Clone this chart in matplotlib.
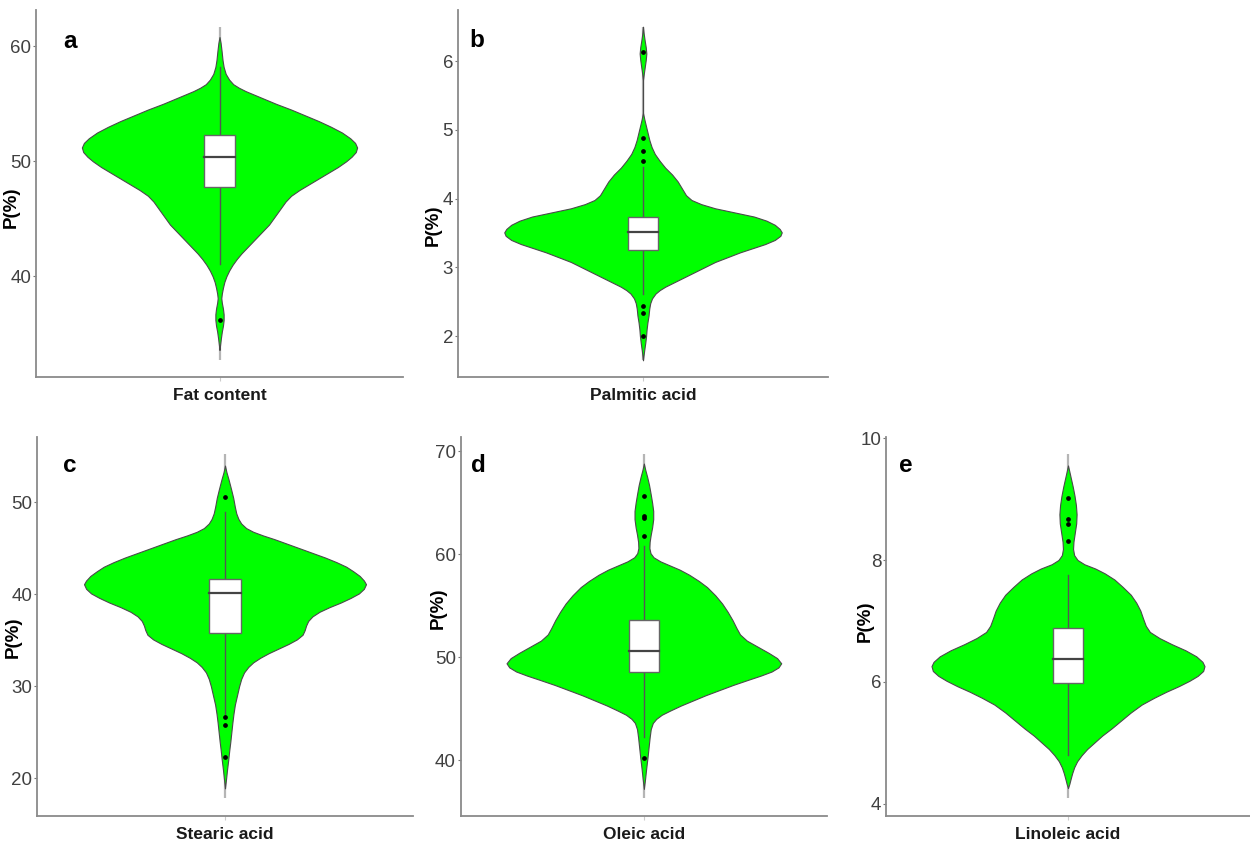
import numpy as np
import matplotlib
matplotlib.use("Agg")
import matplotlib.pyplot as plt

plt.rcParams.update({'font.family': ['Liberation Sans', 'DejaVu Sans'], 'font.size': 13})

GREEN = '#00ff00'

# ---- Fat content (a) ----
FAT_Y = [60.8, 60.3, 59.6, 58.8, 58.2, 57.6, 57.1, 56.7, 56.4, 56.1, 55.8, 55.4, 55.0, 54.5,
         54.0, 53.5, 53.0, 52.5, 52.0, 51.6, 51.2, 50.8, 50.4, 50.0, 49.5, 49.0, 48.5, 48.0,
         47.5, 47.0, 46.5, 46.0, 45.5, 45.0, 44.5, 44.0, 43.5, 43.0, 42.5, 42.0, 41.5, 41.0,
         40.5, 40.0, 39.5, 39.0, 38.5, 38.1, 37.7, 37.2, 36.7, 36.2, 35.7, 35.2, 34.6, 34.0, 33.6]
FAT_W = [0, 0.008, 0.015, 0.022, 0.03, 0.045, 0.07, 0.10, 0.14, 0.19, 0.25, 0.33, 0.41, 0.52,
         0.62, 0.72, 0.81, 0.89, 0.95, 0.985, 1.0, 0.99, 0.96, 0.92, 0.86, 0.79, 0.72, 0.65,
         0.58, 0.52, 0.48, 0.45, 0.42, 0.39, 0.36, 0.32, 0.28, 0.24, 0.20, 0.16, 0.125, 0.095,
         0.07, 0.05, 0.035, 0.025, 0.017, 0.013, 0.017, 0.025, 0.03, 0.03, 0.025, 0.017, 0.01, 0.004, 0]
FAT_BOX = [47.8, 50.35, 52.3]
FAT_WHISK = [41.1, 58.2]
FAT_OUT = [36.2]
FAT_RANGE = [32.7, 61.7]

# ---- Palmitic acid (b) ----
PAL_Y = [6.50, 6.40, 6.30, 6.20, 6.11, 6.02, 5.92, 5.82, 5.75, 5.72, 5.25, 5.15, 5.05, 4.95,
         4.85, 4.75, 4.65, 4.55, 4.45, 4.35, 4.25, 4.15, 4.05, 3.98, 3.92, 3.86, 3.80, 3.74,
         3.68, 3.62, 3.56, 3.51, 3.46, 3.40, 3.34, 3.28, 3.22, 3.15, 3.08, 3.00, 2.92, 2.85,
         2.78, 2.72, 2.67, 2.62, 2.55, 2.48, 2.40, 2.30, 2.20, 2.10, 2.00, 1.90, 1.80, 1.72, 1.65]
PAL_W = [0, 0.005, 0.012, 0.02, 0.024, 0.02, 0.013, 0.006, 0.002, 0, 0, 0.01, 0.022, 0.034,
         0.046, 0.062, 0.085, 0.12, 0.16, 0.21, 0.25, 0.28, 0.31, 0.35, 0.42, 0.52, 0.66, 0.80,
         0.89, 0.95, 0.985, 1.0, 0.99, 0.95, 0.88, 0.79, 0.70, 0.61, 0.52, 0.44, 0.36, 0.29,
         0.22, 0.16, 0.12, 0.09, 0.065, 0.052, 0.045, 0.04, 0.032, 0.026, 0.022, 0.016, 0.009, 0.004, 0]
PAL_BOX = [3.26, 3.52, 3.73]
PAL_WHISK = [2.62, 4.46]
PAL_OUT = [6.13, 4.88, 4.70, 4.55, 2.44, 2.34, 2.00]
PAL_RANGE = [1.65, 6.50]

# ---- Stearic acid (c) ----
STE_Y = [54.0, 53.3, 52.5, 51.5, 50.5, 49.5, 48.8, 48.2, 47.7, 47.2, 46.8, 46.4, 46.0, 45.5,
         45.0, 44.5, 44.0, 43.5, 43.0, 42.5, 42.0, 41.5, 41.1, 40.6, 40.1, 39.6, 39.1, 38.6,
         38.1, 37.6, 37.1, 36.6, 36.1, 35.6, 35.1, 34.6, 34.1, 33.6, 33.1, 32.6, 32.1, 31.5,
         30.8, 30.0, 29.0, 28.0, 27.0, 26.0, 25.0, 24.0, 23.0, 22.0, 21.0, 20.0, 18.9]
STE_W = [0, 0.01, 0.025, 0.042, 0.058, 0.07, 0.08, 0.095, 0.115, 0.15, 0.2, 0.27, 0.35, 0.44,
         0.53, 0.62, 0.71, 0.79, 0.86, 0.91, 0.955, 0.985, 1.0, 0.985, 0.95, 0.89, 0.82, 0.74,
         0.67, 0.62, 0.59, 0.575, 0.565, 0.55, 0.51, 0.45, 0.38, 0.31, 0.25, 0.2, 0.165, 0.135,
         0.115, 0.1, 0.085, 0.07, 0.06, 0.052, 0.045, 0.038, 0.03, 0.023, 0.015, 0.008, 0]
STE_BOX = [35.75, 40.18, 41.64]
STE_WHISK = [26.95, 49.0]
STE_OUT = [50.6, 26.62, 25.75, 22.33]
STE_RANGE = [17.8, 55.27]

# ---- Oleic acid (d) ----
OLE_Y = [68.8, 68.2, 67.5, 66.7, 65.8, 65.0, 64.2, 63.4, 62.6, 61.9, 61.2, 60.6, 60.1, 59.7,
         59.3, 58.9, 58.5, 58.0, 57.4, 56.8, 56.0, 55.2, 54.4, 53.6, 52.8, 52.2, 51.6, 51.0,
         50.4, 49.9, 49.4, 49.0, 48.6, 48.2, 47.8, 47.3, 46.8, 46.3, 45.8, 45.3, 44.8, 44.4,
         44.0, 43.6, 43.0, 42.2, 41.2, 40.2, 39.2, 38.2, 37.2]
OLE_W = [0, 0.01, 0.024, 0.038, 0.05, 0.06, 0.068, 0.068, 0.06, 0.05, 0.042, 0.04, 0.048, 0.07,
         0.12, 0.19, 0.26, 0.33, 0.40, 0.46, 0.52, 0.57, 0.61, 0.645, 0.675, 0.70, 0.75, 0.83,
         0.91, 0.97, 1.0, 0.98, 0.93, 0.85, 0.76, 0.65, 0.55, 0.45, 0.36, 0.27, 0.19, 0.13,
         0.09, 0.065, 0.05, 0.042, 0.034, 0.026, 0.017, 0.009, 0]
OLE_BOX = [48.55, 50.57, 53.65]
OLE_WHISK = [42.28, 60.8]
OLE_OUT = [65.68, 63.73, 63.53, 61.78, 40.17]
OLE_RANGE = [36.27, 69.74]

# ---- Linoleic acid (e) ----
LIN_Y = [9.55, 9.45, 9.33, 9.20, 9.05, 8.90, 8.75, 8.60, 8.45, 8.30, 8.18, 8.08, 8.00, 7.93,
         7.86, 7.78, 7.68, 7.56, 7.43, 7.30, 7.17, 7.04, 6.92, 6.82, 6.72, 6.62, 6.52, 6.42,
         6.33, 6.26, 6.18, 6.10, 6.02, 5.93, 5.84, 5.74, 5.63, 5.50, 5.37, 5.24, 5.12, 5.00,
         4.90, 4.80, 4.70, 4.60, 4.50, 4.40, 4.33, 4.26]
LIN_W = [0, 0.01, 0.022, 0.035, 0.048, 0.058, 0.063, 0.06, 0.05, 0.04, 0.037, 0.045, 0.07, 0.12,
         0.2, 0.27, 0.34, 0.4, 0.46, 0.5, 0.53, 0.55, 0.57, 0.6, 0.67, 0.76, 0.86, 0.94,
         0.985, 1.0, 0.99, 0.95, 0.89, 0.81, 0.72, 0.63, 0.54, 0.46, 0.39, 0.32, 0.25, 0.19,
         0.14, 0.1, 0.067, 0.045, 0.03, 0.018, 0.01, 0]
LIN_BOX = [5.98, 6.37, 6.88]
LIN_WHISK = [4.81, 7.76]
LIN_OUT = [9.02, 8.67, 8.59, 8.31]
LIN_RANGE = [4.09, 9.74]

PANELS = [
    # letter, name, y, w, box, whisk, out, range, ticks, rect, letter pos, ylabel pos
    ('a', 'Fat content', FAT_Y, FAT_W, FAT_BOX, FAT_WHISK, FAT_OUT, FAT_RANGE,
     [40, 50, 60], [0.0288, 0.5528, 0.2936, 0.4353], (0.093, 0.913), (-0.044, 0.463)),
    ('b', 'Palmitic acid', PAL_Y, PAL_W, PAL_BOX, PAL_WHISK, PAL_OUT, PAL_RANGE,
     [2, 3, 4, 5, 6], [0.3664, 0.5528, 0.2960, 0.4353], (0.050, 0.918), (-0.043, 0.414)),
    ('c', 'Stearic acid', STE_Y, STE_W, STE_BOX, STE_WHISK, STE_OUT, STE_RANGE,
     [20, 30, 40, 50], [0.0296, 0.0324, 0.3008, 0.4496], (0.088, 0.925), (-0.041, 0.47)),
    ('d', 'Oleic acid', OLE_Y, OLE_W, OLE_BOX, OLE_WHISK, OLE_OUT, OLE_RANGE,
     [40, 50, 60, 70], [0.3686, 0.0324, 0.2930, 0.4496], (0.047, 0.925), (-0.038, 0.548)),
    ('e', 'Linoleic acid', LIN_Y, LIN_W, LIN_BOX, LIN_WHISK, LIN_OUT, LIN_RANGE,
     [4, 6, 8, 10], [0.7088, 0.0324, 0.2912, 0.4496], (0.055, 0.925), (-0.034, 0.514)),
]


def draw_violin(ax, panel):
    letter, name, ys, ws, box, whisk, outs, rng, ticks, rect, lpos, ylpos = panel
    ys = np.array(ys)
    ws = np.array(ws) * 0.45

    # full-range line behind the violin
    ax.plot([1, 1], rng, color='#b5b5b5', lw=1.6, zorder=1, solid_capstyle='butt')
    ax.fill_betweenx(ys, 1 - ws, 1 + ws, facecolor=GREEN, edgecolor='#4a4a4a', lw=0.8, zorder=2)

    # whiskers
    ax.plot([1, 1], [whisk[0], box[0]], color='#555555', lw=1.0, zorder=3)
    ax.plot([1, 1], [box[2], whisk[1]], color='#555555', lw=1.0, zorder=3)
    # box
    ax.bar(1, box[2] - box[0], bottom=box[0], width=0.1, color='white',
           edgecolor='#666666', lw=1.0, zorder=4)
    ax.plot([0.95, 1.05], [box[1], box[1]], color='#444444', lw=1.6, zorder=5)
    ax.plot([1] * len(outs), outs, 'o', color='black', ms=2.4, zorder=6)

    pad = (rng[1] - rng[0]) * 0.05
    ax.set_ylim(rng[0] - pad, rng[1] + pad)
    ax.set_xlim(0.4, 1.6)
    ax.set_yticks(ticks)
    ax.set_xticks([1])
    ax.set_xticklabels([name], fontsize=12.5, fontweight='bold', color='#1a1a1a')
    ax.set_ylabel('P(%)', fontsize=13.5, fontweight='bold')
    ax.yaxis.set_label_coords(ylpos[0], ylpos[1])

    for s in ['top', 'right']:
        ax.spines[s].set_visible(False)
    for s in ['left', 'bottom']:
        ax.spines[s].set_color('#8a8a8a')
        ax.spines[s].set_linewidth(1.3)
    ax.tick_params(axis='y', length=2.5, color='#777777', labelcolor='#404040', labelsize=13.5, pad=1)
    ax.tick_params(axis='x', length=3, color='#cccccc', pad=5)
    ax.text(lpos[0], lpos[1], letter, transform=ax.transAxes, fontsize=17.5,
            fontweight='bold', ha='center', va='center')


fig = plt.figure(figsize=(12.5, 8.43), dpi=100)
for p in PANELS:
    ax = fig.add_axes(p[9])
    draw_violin(ax, p)

fig.savefig('out.png', dpi=100)
